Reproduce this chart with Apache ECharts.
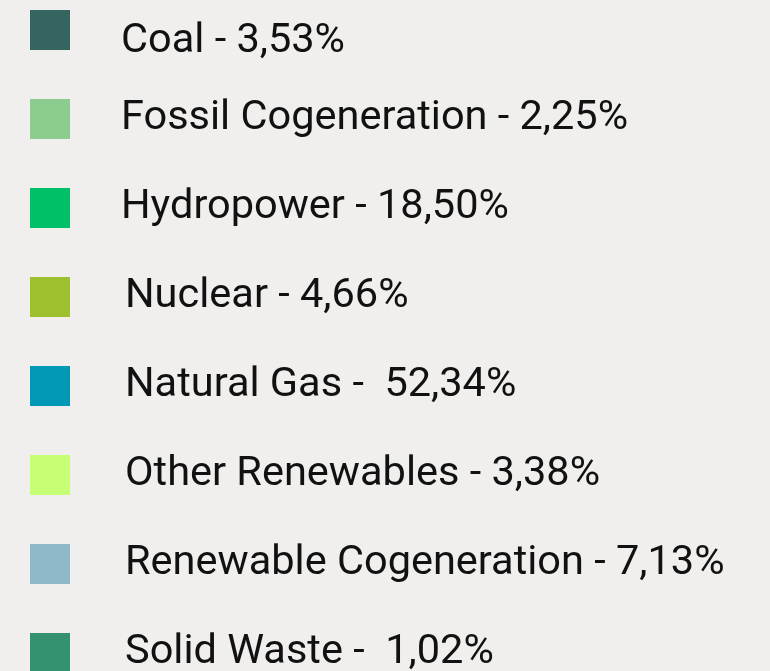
<!DOCTYPE html>
<html>
<head>
<meta charset="utf-8">
<script src="https://cdn.jsdelivr.net/npm/echarts@6/dist/echarts.min.js"></script>
<style>
html,body{margin:0;padding:0;background:#f0efed;}
#chart{width:770px;height:671px;}
</style>
</head>
<body>
<div id="chart"></div>
<script>
const categories = ['Coal', 'Fossil Cogeneration', 'Hydropower', 'Nuclear', 'Natural Gas', 'Other Renewables', 'Renewable Cogeneration', 'Solid Waste'];
const shares = [3.53, 2.25, 18.50, 4.66, 52.34, 3.38, 7.13, 1.02];
const separators = [' - ', ' - ', ' - ', ' - ', ' -  ', ' - ', ' - ', ' -  '];
const colors = ['#35655f', '#8ccc8f', '#00c067', '#9fc02f', '#0098b4', '#c6ff73', '#8fb8c8', '#359270'];

const fmt = v => v.toFixed(2).replace('.', ',') + '%';
const labels = categories.map((c, i) => c + separators[i] + fmt(shares[i]));

const baseFont = { fontFamily: 'Roboto', fontSize: 41.5, color: '#111', lineHeight: 40 };

const chart = echarts.init(document.getElementById('chart'), null, {renderer: 'canvas'});
chart.setOption({
  backgroundColor: '#f0efed',
  animation: false,
  color: colors,
  legend: {
    orient: 'vertical',
    left: 30,
    top: -3,
    height: 1000,
    itemWidth: 40,
    itemHeight: 40,
    itemGap: 23,
    icon: 'rect',
    selectedMode: false,
    padding: 0,
    formatter: function (name) {
      const i = labels.indexOf(name);
      const key = i === 0 ? 'c' : (i < 3 ? 'a' : 'b');
      return '{' + key + '|' + name + '}';
    },
    textStyle: {
      fontFamily: 'Roboto',
      fontSize: 41.5,
      color: '#111',
      lineHeight: 40,
      rich: {
        c: Object.assign({ padding: [24, 0, 0, 46] }, baseFont),
        a: Object.assign({ padding: [12, 0, 12, 46] }, baseFont),
        b: Object.assign({ padding: [12, 0, 12, 50] }, baseFont)
      }
    },
    data: labels
  },
  series: [{
    type: 'pie',
    center: [-500, -500],
    radius: 10,
    silent: true,
    label: { show: false },
    data: labels.map((n, i) => ({ name: n, value: shares[i] }))
  }]
});
</script>
</body>
</html>
